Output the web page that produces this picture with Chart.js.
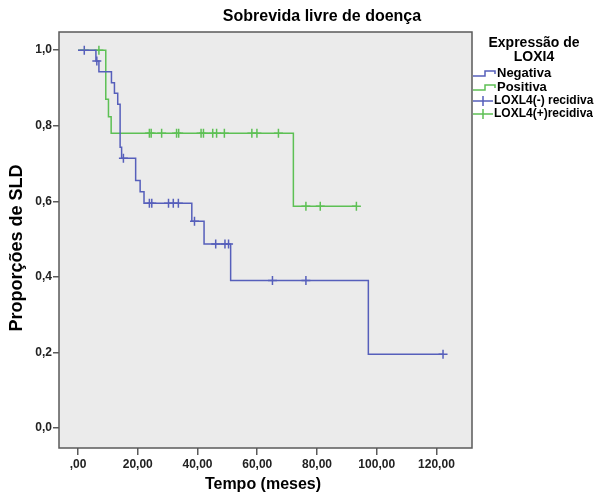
<!DOCTYPE html>
<html><head><meta charset="utf-8">
<script src="https://cdn.jsdelivr.net/npm/chart.js@4.4.1/dist/chart.umd.min.js"></script>
<style>html,body{margin:0;background:#fff}#wrap{width:595px;height:494px;position:relative}</style>
</head><body><div id="wrap"><canvas id="km"></canvas></div>
<script>
// Kaplan-Meier steps
const negTimes=[0,6,7,11.2,12.2,13.3,14.1,14.6,19.3,20.8,22.1,38.1,42.2,51.1,97.2,122.2];
const negSurv=[1,0.971,0.943,0.914,0.886,0.857,0.743,0.714,0.655,0.625,0.595,0.547,0.487,0.39,0.195,0.195];
const negCensored=[2.1,6.3,15.2,23.9,24.7,30.3,31.9,33.6,39,46.1,49.2,50.4,65.1,76.3,122.2];
const posTimes=[0,9.3,10.2,11.1,72.1,93.2];
const posSurv=[1,0.87,0.824,0.78,0.587,0.587];
const posCensored=[7,23.9,24.5,28,33,33.7,41.2,42,45.1,46.4,49,58.2,59.9,67.1,76.3,81.1,93.2];

const xTicks=[0,20,40,60,80,100,120];
const xTickLabels=[',00','20,00','40,00','60,00','80,00','100,00','120,00'];
const yTicks=[0,0.2,0.4,0.6,0.8,1];
const yTickLabels=['0,0','0,2','0,4','0,6','0,8','1,0'];

const seriesNames=['Negativa','Positiva'];
const censorNames=['LOXL4(-) recidiva','LOXL4(+)recidiva'];
const legendTitle=['Expressão de','LOXI4'];
const BLUE='#565fbb', GREEN='#5dc054';

Chart.defaults.font.family='"Liberation Sans", Arial, sans-serif';

function survAt(times,surv,t){ let s=surv[0]; for(let i=0;i<times.length;i++){ if(times[i]<=t) s=surv[i]; } return s; }
const pts=(ts,ss)=>ts.map((t,i)=>({x:t,y:ss[i]}));
const cens=(cs,ts,ss)=>cs.map(t=>({x:t,y:survAt(ts,ss,t)}));

const deco={id:'deco',
  beforeDatasetsDraw(c){ const {ctx,chartArea:a}=c; ctx.save(); ctx.fillStyle='#ebebeb'; ctx.fillRect(a.left,a.top,a.width,a.height); ctx.restore(); },
  afterDraw(c){
    const {ctx,chartArea:a}=c; ctx.save();
    ctx.strokeStyle='#5a5a5a'; ctx.lineWidth=1.5; ctx.strokeRect(a.left,a.top,a.width,a.height);
    ctx.fillStyle='#000'; ctx.textAlign='center'; ctx.textBaseline='middle';
    ctx.font='bold 16px "Liberation Sans", Arial, sans-serif'; ctx.fillText('Sobrevida livre de doença',322,17);
    ctx.fillText('Tempo (meses)',263,485);
    ctx.save(); ctx.translate(17,248); ctx.rotate(-Math.PI/2); ctx.font='bold 18px "Liberation Sans", Arial, sans-serif'; ctx.fillText('Proporções de SLD',0,0); ctx.restore();
    // legend
    ctx.font='bold 14px "Liberation Sans", Arial, sans-serif';
    ctx.fillText(legendTitle[0],534,43); ctx.fillText(legendTitle[1],534,57);
    ctx.textAlign='left'; ctx.lineWidth=1.5;
    [BLUE,GREEN].forEach((col,i)=>{
      const y=73+i*14; ctx.strokeStyle=col; ctx.beginPath();
      ctx.moveTo(473,y+3); ctx.lineTo(485,y+3); ctx.lineTo(485,y-2); ctx.lineTo(495,y-2); ctx.lineTo(495,y+1); ctx.stroke();
      ctx.font='bold 13px "Liberation Sans", Arial, sans-serif'; ctx.fillText(seriesNames[i],497,y);
    });
    [BLUE,GREEN].forEach((col,i)=>{
      const y=101+i*13; ctx.strokeStyle=col; ctx.beginPath();
      ctx.moveTo(473,y); ctx.lineTo(493,y); ctx.moveTo(483,y-5); ctx.lineTo(483,y+5); ctx.stroke();
      ctx.font='bold 12px "Liberation Sans", Arial, sans-serif'; ctx.fillText(censorNames[i],494,y);
    });
    ctx.restore();
  }
};

new Chart(document.getElementById('km'),{
  type:'line',
  data:{datasets:[
    {label:seriesNames[0],data:pts(negTimes,negSurv),borderColor:BLUE,borderWidth:1.5,stepped:true,pointRadius:0,fill:false},
    {label:seriesNames[1],data:pts(posTimes,posSurv),borderColor:GREEN,borderWidth:1.5,stepped:true,pointRadius:0,fill:false},
    {label:censorNames[0],data:cens(negCensored,negTimes,negSurv),showLine:false,pointStyle:'cross',pointRadius:4.5,pointBorderWidth:1.5,borderColor:BLUE,pointBorderColor:BLUE},
    {label:censorNames[1],data:cens(posCensored,posTimes,posSurv),showLine:false,pointStyle:'cross',pointRadius:4.5,pointBorderWidth:1.5,borderColor:GREEN,pointBorderColor:GREEN}
  ]},
  options:{
    responsive:true,maintainAspectRatio:false,animation:false,
    layout:{padding:{left:0,top:32,right:123,bottom:0}},
    plugins:{legend:{display:false},tooltip:{enabled:false}},
    scales:{
      x:{type:'linear',min:-6.36,max:131.9,
        afterBuildTicks:s=>{s.ticks=xTicks.map(v=>({value:v}));},
        afterFit:s=>{s.height=46;},
        ticks:{callback:(v,i)=>xTickLabels[i],color:'#222',font:{size:12,weight:'bold'},padding:2,maxRotation:0,autoSkip:false},
        grid:{drawOnChartArea:false,tickLength:7,color:'#5a5a5a',lineWidth:1.5},border:{display:false}},
      y:{type:'linear',min:-0.053,max:1.048,
        afterBuildTicks:s=>{s.ticks=yTicks.map(v=>({value:v}));},
        afterFit:s=>{s.width=59;},
        ticks:{callback:(v,i)=>yTickLabels[i],color:'#222',font:{size:12,weight:'bold'},padding:1,autoSkip:false},
        grid:{drawOnChartArea:false,tickLength:6,color:'#5a5a5a',lineWidth:1.5},border:{display:false}}
    }
  },
  plugins:[deco]
});
</script></body></html>
